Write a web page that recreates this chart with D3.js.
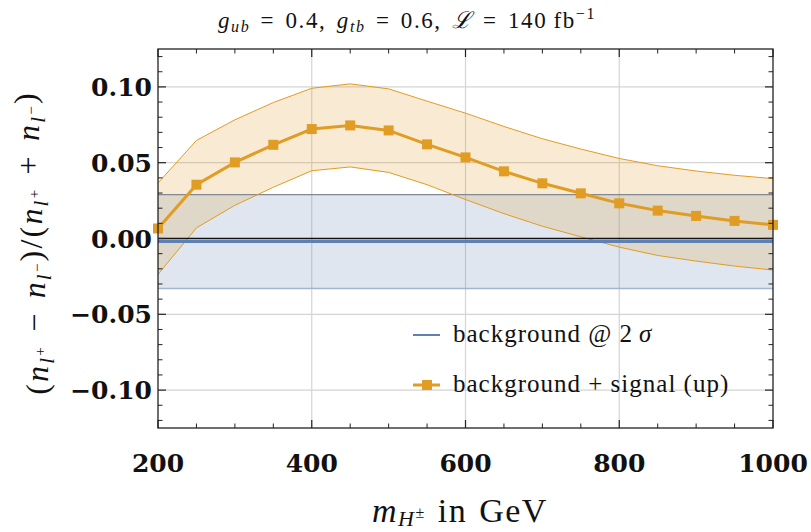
<!DOCTYPE html>
<html>
<head>
<meta charset="utf-8">
<script src="https://cdn.jsdelivr.net/npm/d3@7"></script>
<style>
  body { margin: 0; background: #fff; }
  svg { display: block; }
  .serif { font-family: "Liberation Serif", "Times New Roman", serif; fill: #111; }
  .tick-label { font-family: "DejaVu Serif", serif; font-weight: bold; font-size: 25px; fill: #111; }
</style>
</head>
<body>
<div id="chart"></div>
<script>
// masses (GeV)
var masses = [200, 250, 300, 350, 400, 450, 500, 550, 600, 650, 700, 750, 800, 850, 900, 950, 1000]
// background + signal (up), central value and band
var signal_mid = [0.0066, 0.0355, 0.0502, 0.0618, 0.0722, 0.0746, 0.0713, 0.0621, 0.0535, 0.0443, 0.0364, 0.0298, 0.0232, 0.0184, 0.0149, 0.0116, 0.0090]
var signal_hi  = [0.0366, 0.0647, 0.0783, 0.0897, 0.0991, 0.1020, 0.0987, 0.0906, 0.0827, 0.0739, 0.0658, 0.0590, 0.0528, 0.0480, 0.0445, 0.0417, 0.0395]
var signal_lo  = [-0.0237, 0.0070, 0.0219, 0.0338, 0.0447, 0.0472, 0.0436, 0.0355, 0.0257, 0.0164, 0.0081, 0.0011, -0.0057, -0.0112, -0.0149, -0.0182, -0.0208]
// background @ 2 sigma (flat)
var bg_mid = -0.002
var bg_hi = 0.029
var bg_lo = -0.033
// ticks
var x_ticks = [200, 400, 600, 800, 1000]
var y_ticks = [-0.10, -0.05, 0.00, 0.05, 0.10]

var W = 811, H = 532
var margin = {top: 49, right: 38, bottom: 104, left: 158}
var width = W - margin.left - margin.right,
    height = H - margin.top - margin.bottom

var blue = "#5e81b5", orange = "#e19c24"

var svg = d3.select("#chart").append("svg")
    .attr("width", W).attr("height", H)
var g = svg.append("g")
    .attr("transform", `translate(${margin.left}, ${margin.top})`)

var x = d3.scaleLinear().domain([200, 1000]).range([0, width])
var y = d3.scaleLinear().domain([-0.125, 0.125]).range([height, 0])

// grid lines
g.selectAll(".gx").data([400, 600, 800]).join("line")
    .attr("x1", d => x(d)).attr("x2", d => x(d))
    .attr("y1", 0).attr("y2", height)
    .attr("stroke", "#d4d4d4").attr("stroke-width", 1.2)
g.selectAll(".gy").data(y_ticks.filter(d => d != 0)).join("line")
    .attr("x1", 0).attr("x2", width)
    .attr("y1", d => y(d)).attr("y2", d => y(d))
    .attr("stroke", "#d4d4d4").attr("stroke-width", 1.2)

// background band
g.append("rect")
    .attr("x", 0).attr("width", width)
    .attr("y", y(bg_hi)).attr("height", y(bg_lo) - y(bg_hi))
    .attr("fill", blue).attr("fill-opacity", 0.2)

// signal band
var area = d3.area()
    .x((d, i) => x(masses[i]))
    .y0((d, i) => y(signal_lo[i]))
    .y1((d, i) => y(signal_hi[i]))
g.append("path").datum(masses)
    .attr("d", area)
    .attr("fill", orange).attr("fill-opacity", 0.2)

// band edges
g.append("line").attr("x1", 0).attr("x2", width)
    .attr("y1", y(bg_hi)).attr("y2", y(bg_hi))
    .attr("stroke", "#828894").attr("stroke-width", 1.2)
g.append("line").attr("x1", 0).attr("x2", width)
    .attr("y1", y(bg_lo)).attr("y2", y(bg_lo))
    .attr("stroke", "#a2b4d3").attr("stroke-width", 1.5)

var line = d3.line().x((d, i) => x(masses[i]))
g.append("path").datum(signal_hi)
    .attr("d", line.y(d => y(d)))
    .attr("fill", "none").attr("stroke", orange).attr("stroke-width", 1)
g.append("path").datum(signal_lo)
    .attr("d", line.y(d => y(d)))
    .attr("fill", "none").attr("stroke", orange).attr("stroke-width", 1)

// zero axis
g.append("line").attr("x1", 0).attr("x2", width)
    .attr("y1", y(0)).attr("y2", y(0))
    .attr("stroke", "#111").attr("stroke-width", 1.3)

// background central line
g.append("line").attr("x1", 0).attr("x2", width)
    .attr("y1", y(bg_mid)).attr("y2", y(bg_mid))
    .attr("stroke", blue).attr("stroke-width", 3)

// signal central line + squares
g.append("path").datum(signal_mid)
    .attr("d", line.y(d => y(d)))
    .attr("fill", "none").attr("stroke", orange).attr("stroke-width", 3)
g.selectAll(".pt").data(signal_mid).join("rect")
    .attr("x", (d, i) => x(masses[i]) - 5)
    .attr("y", d => y(d) - 5)
    .attr("width", 10).attr("height", 10)
    .attr("fill", orange)

// frame with inward ticks on all sides
var frame = g.append("g")
frame.append("rect").attr("width", width).attr("height", height)
    .attr("fill", "none").attr("stroke", "#222").attr("stroke-width", 1.3)

var x_minor = d3.range(250, 1000, 50).filter(d => d % 200 != 0)
var y_minor = d3.range(-12, 13).map(d => d / 100).filter(d => Math.round(d * 100) % 5 != 0)

function tick_x(vals, len, sw) {
  frame.selectAll(null).data(vals).join("line")
      .attr("x1", d => x(d)).attr("x2", d => x(d))
      .attr("y1", height).attr("y2", height - len)
      .attr("stroke", "#222").attr("stroke-width", sw)
  frame.selectAll(null).data(vals).join("line")
      .attr("x1", d => x(d)).attr("x2", d => x(d))
      .attr("y1", 0).attr("y2", len)
      .attr("stroke", "#222").attr("stroke-width", sw)
}
function tick_y(vals, len, sw) {
  frame.selectAll(null).data(vals).join("line")
      .attr("x1", 0).attr("x2", len)
      .attr("y1", d => y(d)).attr("y2", d => y(d))
      .attr("stroke", "#222").attr("stroke-width", sw)
  frame.selectAll(null).data(vals).join("line")
      .attr("x1", width).attr("x2", width - len)
      .attr("y1", d => y(d)).attr("y2", d => y(d))
      .attr("stroke", "#222").attr("stroke-width", sw)
}
tick_x(x_ticks, 8, 1.2)
tick_x(x_minor, 4.5, 1)
tick_y(y_ticks, 8, 1.2)
tick_y(y_minor, 4.5, 1)

// tick labels
g.selectAll(".xl").data(x_ticks).join("text")
    .attr("class", "tick-label")
    .attr("x", d => x(d)).attr("y", 472 - margin.top)
    .attr("text-anchor", "middle")
    .text(d => d)
g.selectAll(".yl").data(y_ticks).join("text")
    .attr("class", "tick-label")
    .attr("x", -6).attr("y", d => y(d) + 9)
    .attr("text-anchor", "end")
    .text(d => (d < 0 ? "\u2212" : "") + Math.abs(d).toFixed(2))

// title
var title = svg.append("text").attr("class", "serif")
    .attr("x", 407).attr("y", 28)
    .attr("text-anchor", "middle").attr("font-size", 23)
    .attr("letter-spacing", 1.6).attr("word-spacing", 3)
title.append("tspan").attr("font-style", "italic").text("g")
title.append("tspan").attr("font-style", "italic").attr("font-size", 16).attr("dy", 4).text("ub")
title.append("tspan").attr("dy", -4).text(" = 0.4, ")
title.append("tspan").attr("font-style", "italic").text("g")
title.append("tspan").attr("font-style", "italic").attr("font-size", 16).attr("dy", 4).text("tb")
title.append("tspan").attr("dy", -4).text(" = 0.6, ")
title.append("tspan").attr("font-style", "italic").text("\u2112")
title.append("tspan").text(" = 140\u2009fb")
title.append("tspan").attr("font-size", 16).attr("dy", -9).text("\u22121")

// x axis label
var xl = svg.append("text").attr("class", "serif")
    .attr("x", 460).attr("y", 522)
    .attr("text-anchor", "middle").attr("font-size", 34)
    .attr("letter-spacing", 1.5).attr("word-spacing", 2)
xl.append("tspan").attr("font-style", "italic").text("m")
xl.append("tspan").attr("font-style", "italic").attr("font-size", 22).attr("dy", 4).text("H")
xl.append("tspan").attr("font-size", 16).attr("dy", -8).text("\u00b1")
xl.append("tspan").attr("dy", 4).text(" in GeV")

// y axis label
var yl = svg.append("text").attr("class", "serif")
    .attr("transform", "translate(48, 243) rotate(-90)")
    .attr("text-anchor", "middle").attr("font-size", 32)
    .attr("letter-spacing", 2.2).attr("word-spacing", 3)
function n_l(sel, sign) {
  sel.append("tspan").attr("font-style", "italic").text("n")
  sel.append("tspan").attr("font-style", "italic").attr("font-size", 21).attr("dy", 6).text("l")
  sel.append("tspan").attr("font-size", 15).attr("dy", -9).text(sign)
  sel.append("tspan").attr("dy", 3).text("")
}
yl.append("tspan").text("(")
n_l(yl, "+")
yl.append("tspan").text(" \u2212 ")
n_l(yl, "\u2212")
yl.append("tspan").text(")/(")
n_l(yl, "+")
yl.append("tspan").text(" + ")
n_l(yl, "\u2212")
yl.append("tspan").text(")")

// legend
var leg = svg.append("g").attr("transform", "translate(413, 335)")
leg.append("line").attr("x1", 0).attr("x2", 27).attr("y1", 0).attr("y2", 0)
    .attr("stroke", blue).attr("stroke-width", 2)
var t1 = leg.append("text").attr("class", "serif").attr("x", 40).attr("y", 7)
    .attr("font-size", 25).attr("letter-spacing", 1)
t1.append("tspan").text("background @ 2\u2009")
t1.append("tspan").attr("font-style", "italic").text("\u03c3")
leg.append("line").attr("x1", 0).attr("x2", 27).attr("y1", 50).attr("y2", 50)
    .attr("stroke", orange).attr("stroke-width", 3)
leg.append("rect").attr("x", 9).attr("y", 45).attr("width", 10).attr("height", 10)
    .attr("fill", orange)
leg.append("text").attr("class", "serif").attr("x", 40).attr("y", 57)
    .attr("font-size", 25).attr("letter-spacing", 1)
    .text("background + signal (up)")
</script>
</body>
</html>
